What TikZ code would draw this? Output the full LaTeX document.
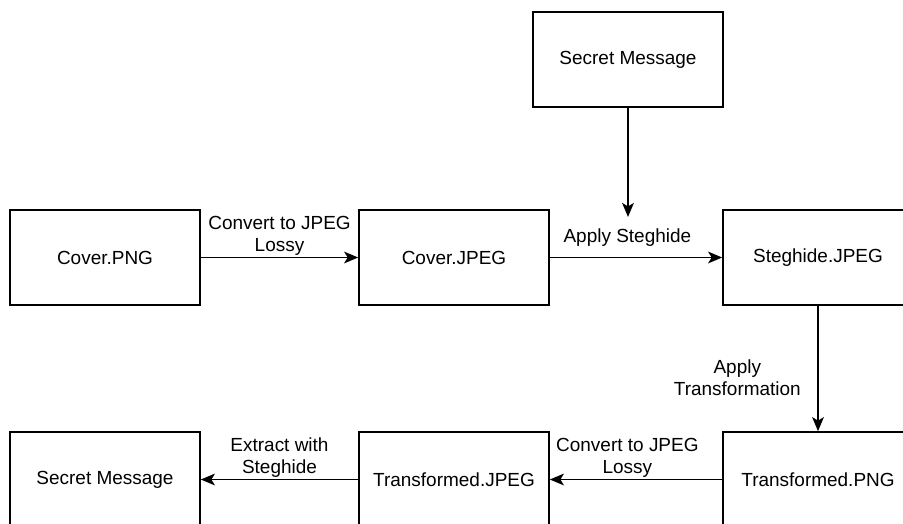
\documentclass[tikz,border=0pt]{standalone}
\usepackage{fontspec}
\setmainfont{Liberation Sans}
\usetikzlibrary{arrows.meta}

\begin{document}
\begin{tikzpicture}[
		x=0.03cm, y=-0.03cm,
		>={Stealth[length=12pt, width=10pt, inset=3pt]},
		box/.style={
			draw,
			line width=1.4pt,
			rectangle,
			minimum width=5.7cm,
			minimum height=2.85cm,
			inner sep=0pt,
			align=center,
			font=\fontsize{16.2}{18.8}\selectfont
		},
		trans/.style={->, line width=1.4pt},
		lab/.style={
			font=\fontsize{16.2}{18.8}\selectfont,
			align=center,
			inner sep=0pt
		}
		]
		
		% Frame
		\clip (0,0) rectangle (903,523);
		
		% Boxes
		\node[box] (msgtop) at (628,59.5) {Secret Message};
		\node[box] (coverpng) at (105,257.5) {Cover.PNG};
		\node[box] (coverjpeg) at (454,257.5) {Cover.JPEG};
		\node[box] (steg) at (818,257.5) {Steghide.JPEG};
		\node[box] (transpng) at (818,479.5) {Transformed.PNG};
		\node[box] (transjpeg) at (454,479.5) {Transformed.JPEG};
		\node[box] (msgout) at (105,479.5) {Secret Message};
		
		% Message into the embedding step
		\coordinate (stegin) at (628,217);
		\draw[trans] (msgtop) -- (stegin);
		
		% Top row
		\draw[trans] (coverpng) -- node[lab, above=1pt] {Convert to JPEG\\Lossy} (coverjpeg);
		\draw[trans] (coverjpeg) -- node[lab, above=9pt, pos=0.45] {Apply Steghide} (steg);
		
		% Down
		\draw[trans] (steg) -- node[lab, left=14pt, pos=0.57] {Apply\\Transformation} (transpng);
		
		% Bottom row
		\draw[trans] (transpng) -- node[lab, above=1pt, pos=0.55] {Convert to JPEG\\Lossy} (transjpeg);
		\draw[trans] (transjpeg) -- node[lab, above=1pt] {Extract with\\Steghide} (msgout);
		
	\end{tikzpicture}
\end{document}
